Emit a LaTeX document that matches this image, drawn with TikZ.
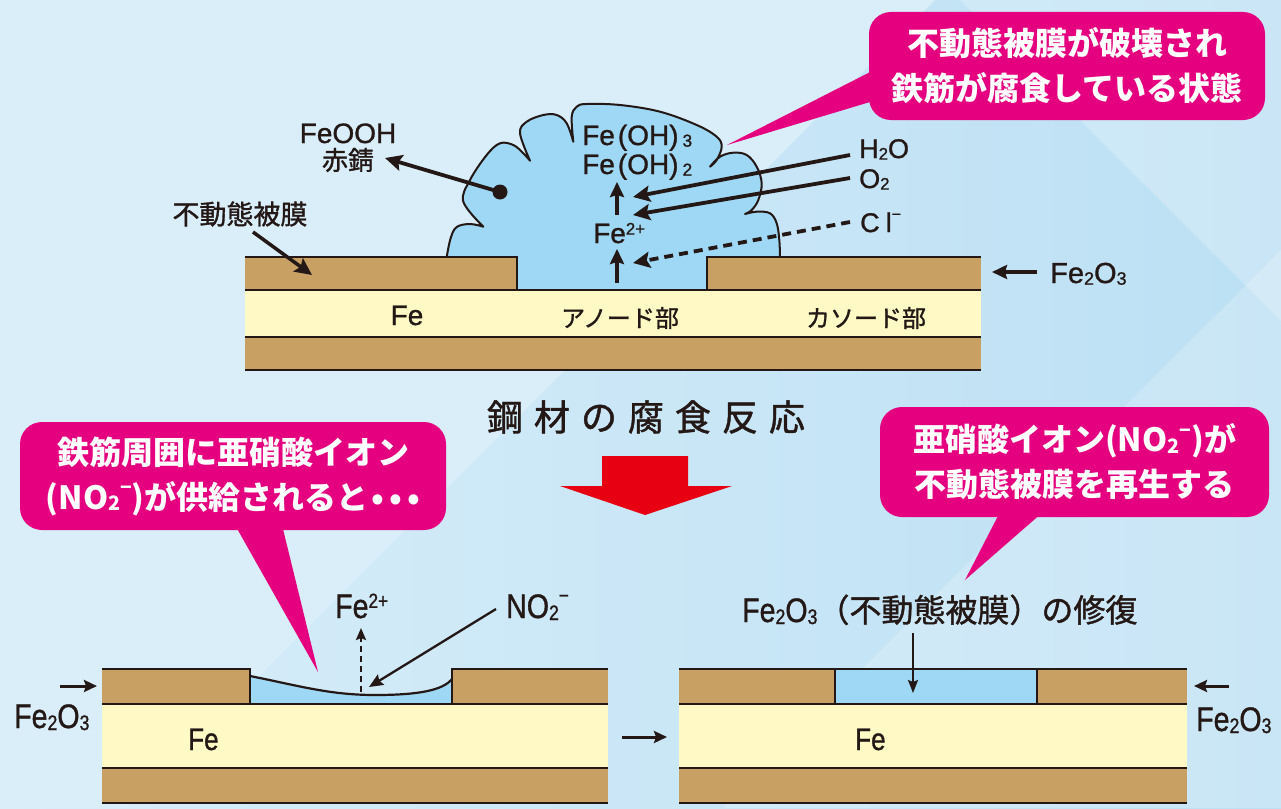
\documentclass[tikz,border=0pt]{standalone}
\usepackage{fontspec}
\setmainfont{Liberation Sans}[FakeBold=1.0]
\newfontfamily\jp{Noto Sans CJK JP}
\newfontfamily\jpm{Noto Sans CJK JP}[FakeBold=1.2]
\newfontfamily\cond{Liberation Sans}[FakeStretch=0.84, FakeBold=1.0]
\usetikzlibrary{arrows.meta}
\definecolor{ink}{HTML}{231815}
\definecolor{film}{HTML}{C9A064}
\definecolor{iron}{HTML}{FFF9C6}
\definecolor{rust}{HTML}{9FD8F4}
\definecolor{pink}{HTML}{E4007F}
\definecolor{alarm}{HTML}{E60012}
\definecolor{bgpale}{HTML}{D9EEF9}
\definecolor{bgblue}{HTML}{BCE0F4}
\newcommand{\lo}[1]{\raisebox{-0.06em}{\scalebox{0.62}{#1}}}
\newcommand{\hi}[1]{\raisebox{0.3em}{\scalebox{0.6}{#1}}}
\newcommand{\ionminus}{\raisebox{0.46em}{\scalebox{0.6}{−}}}
\newcommand{\fs}[1]{\fontsize{#1}{#1}\selectfont}
\tikzset{
  lbl/.style={inner sep=0pt, text=ink, font=\fs{28}},
  jlbl/.style={inner sep=0pt, text=ink, font=\jpm\fs{26}},
  clbl/.style={inner sep=0pt, text=ink, font=\cond\fs{34}},
  callout/.style={fill=pink, rounded corners=22pt, inner sep=0pt, text=white, align=center,
    font=\jp\bfseries\fontsize{32}{45}\selectfont},
  layer/.style={line width=2.6pt, draw=ink},
  bigarrow/.style={line width=3.8pt, draw=ink, -{Stealth[length=17pt,width=16pt,inset=3pt]}},
  midarrow/.style={line width=3pt, draw=ink, -{Stealth[length=13pt,width=12pt,inset=2pt]}},
  smallarrow/.style={line width=2.3pt, draw=ink, -{Stealth[length=12pt,width=10pt,inset=2pt]}},
}
\begin{document}
\begin{tikzpicture}[x=1pt,y=-1pt]
\useasboundingbox (0,0) rectangle (1281,808);
% background
\shade[left color=bgpale, right color=bgblue] (0,0) rectangle (1281,808);
\fill[bgpale] (0,0) -- (935,0) -- (127,808) -- (0,808) -- cycle;
\fill[white, opacity=0.22] (960,0) -- (1281,0) -- (1281,321) -- cycle;
\fill[white, opacity=0.2] (1281,250) -- (1281,808) -- (723,808) -- cycle;

% ---------- corroding bar ----------
\path[fill=rust, draw=ink, line width=2pt, line join=round]
  (446.7,262)
  -- plot[smooth, tension=0.6] coordinates {(446.7,257) (450.7,238) (456.7,227) (470,224) (483.3,226.7)}
  -- plot[smooth, tension=0.6] coordinates {(483.3,226.7) (463.3,201.7) (470,180) (486.7,155) (500,143.3) (513.3,145) (523.3,153.3) (530,160.7)}
  -- plot[smooth, tension=0.6] coordinates {(530,160.7) (520,133.3) (526.7,121.7) (543.3,115) (556.7,115) (566.7,123.3) (573.3,141.7)}
  -- plot[smooth, tension=0.6] coordinates {(573.3,141.7) (571.7,116.7) (576.7,106.7) (586.7,104) (620,105) (660,111.7) (696.7,125) (716.7,136.7) (721.7,146.7) (716.7,160) (710,166.7)}
  -- plot[smooth, tension=0.6] coordinates {(710,166.7) (720,156.7) (733.3,152.7) (746.7,155) (756.7,166.7) (761.7,183.3) (758.3,200) (751.7,210) (745,214)}
  -- plot[smooth, tension=0.6] coordinates {(745,214) (756.7,211.7) (770,213.3) (776.7,223.3) (779.3,240) (780,257)}
  -- (780,262) -- cycle;
\fill[rust] (517,258) rectangle (707,290);
\fill[film] (245,257) rectangle (517,290);
\fill[film] (707,257) rectangle (981,290);
\fill[iron] (245,290) rectangle (981,337);
\fill[film] (245,337) rectangle (981,370);
\draw[layer] (245,257) -- (517,257) -- (517,290);
\draw[layer] (707,290) -- (707,257) -- (981,257);
\draw[layer] (245,290) -- (981,290);
\draw[layer] (245,337) -- (981,337);
\draw[layer] (245,370) -- (981,370);

% labels of the corroding bar
\node[jlbl, font=\jpm\fs{27}] (passive) at (240,214) {不動態被膜};
\node[lbl, anchor=base] (feooh) at (348,143) {FeOOH};
\node[jlbl] (akasabi) at (348,160) {赤錆};
\node[lbl, anchor=base west] (oh3) at (582,145) {Fe\hspace{3pt}(OH)\hspace{4pt}\lo{3}};
\node[lbl, anchor=base west] (oh2) at (582,174) {Fe\hspace{3pt}(OH)\hspace{4pt}\lo{2}};
\node[lbl, anchor=base west] (fe2a) at (593,243) {Fe\hi{2+}};
\node[lbl, font=\fs{27}, anchor=base west] (h2o) at (859,158) {H\lo{2}O};
\node[lbl, font=\fs{27}, anchor=base west] (o2) at (859,188) {O\lo{2}};
\node[lbl, font=\fs{27}, anchor=base west] (cl) at (860,232) {C\hspace{6pt}l\ionminus};
\node[lbl, font=\fs{29}, anchor=base west] (ox1) at (1050,283) {Fe\lo{2}O\lo{3}};
\node[lbl, anchor=base] (fe1) at (407,325) {Fe};
\node[jlbl, font=\jpm\fs{24}] (anode) at (620,318) {アノード部};
\node[jlbl, font=\jpm\fs{24}] (cathode) at (866,318) {カソード部};

\coordinate (dot) at (500,192);
\coordinate (rusttip) at (385,158);
\coordinate (passtail) at (253,232);
\coordinate (passtip) at (312,275);
\coordinate (h2otail) at (850,155);
\coordinate (h2otip) at (633,197);
\coordinate (o2tail) at (850,178);
\coordinate (o2tip) at (633,215);
\coordinate (cltail) at (850,222);
\coordinate (cltip) at (633,263);
\coordinate (up1a) at (617,283);
\coordinate (up1b) at (617,249);
\coordinate (up2a) at (617,215);
\coordinate (up2b) at (617,182);
\coordinate (ox1tail) at (1037,272);
\coordinate (ox1tip) at (992,272);

\fill[ink] (dot) circle (7.5);
\draw[bigarrow] (dot) -- (rusttip);
\draw[bigarrow, line width=3.5pt] (passtail) -- (passtip);
\draw[bigarrow] (h2otail) -- (h2otip);
\draw[bigarrow] (o2tail) -- (o2tip);
\draw[bigarrow, dash pattern=on 9pt off 6pt] (cltail) -- (cltip);
\draw[bigarrow, -{Stealth[length=15pt,width=14pt,inset=2pt]}] (up1a) -- (up1b);
\draw[bigarrow, -{Stealth[length=15pt,width=14pt,inset=2pt]}] (up2a) -- (up2b);
\draw[bigarrow, line width=3.5pt, -{Stealth[length=15pt,width=14pt,inset=2pt]}] (ox1tail) -- (ox1tip);

% callout on the corroding bar
\node[callout, minimum width=396pt, minimum height=108pt] (c1) at (1067,66)
  {不動態被膜が破壊され\\鉄筋が腐食している状態};
\fill[pink] (880,67) -- (727,145) -- (880,99) -- cycle;

% title and transition arrow
\node[inner sep=0pt, text=ink, font=\jpm\fs{36}] (title) at (646,417)
  {鋼\hspace{11pt}材\hspace{11pt}の\hspace{11pt}腐\hspace{11pt}食\hspace{11pt}反\hspace{11pt}応};
\fill[alarm] (602,456) -- (688,456) -- (688,486) -- (732,486) -- (645,515) -- (560,486) -- (602,486) -- cycle;

% ---------- nitrite supplied ----------
\fill[film] (102,669) rectangle (250,704);
\fill[film] (452,669) rectangle (608,704);
\fill[rust] (250,676) .. controls (300,686) and (330,695) .. (375,695)
  .. controls (420,695) and (443,690) .. (452,679) -- (452,704) -- (250,704) -- cycle;
\fill[iron] (102,704) rectangle (608,768);
\fill[film] (102,768) rectangle (608,803);
\draw[layer] (102,669) -- (250,669) -- (250,704);
\draw[layer] (452,704) -- (452,669) -- (608,669);
\draw[ink, line width=2.2pt] (250,676) .. controls (300,686) and (330,695) .. (375,695)
  .. controls (420,695) and (443,690) .. (452,679);
\draw[layer] (102,704) -- (608,704);
\draw[layer] (102,768) -- (608,768);
\draw[layer] (102,803) -- (608,803);

\node[clbl, anchor=base west] (fe2b) at (335,618) {Fe\hi{2+}};
\node[clbl, anchor=base west] (no2) at (506,618) {NO\lo{2}\ionminus};
\node[clbl, anchor=base west] (ox2) at (14,728) {Fe\lo{2}O\lo{3}};
\node[clbl, font=\cond\fs{31}, anchor=base west] (fe3) at (188,750) {Fe};

\coordinate (fe2bfoot) at (361,692);
\coordinate (fe2bhead) at (361,628);
\coordinate (no2tail) at (496,609);
\coordinate (no2tip) at (369,687);
\coordinate (ox2tail) at (60,686);
\coordinate (ox2tip) at (97,686);
\draw[smallarrow, line width=2.6pt, dash pattern=on 6pt off 4pt] (fe2bfoot) -- (fe2bhead);
\draw[smallarrow, -{Stealth[length=14pt,width=12pt,inset=2pt]}] (no2tail) -- (no2tip);
\draw[midarrow] (ox2tail) -- (ox2tip);

\node[callout, minimum width=426pt, minimum height=108pt] (c2) at (233,476)
  {鉄筋周囲に亜硝酸イオン\\(NO\lo{2}\ionminus)が供給されると\hspace{3pt}•\hspace{5pt}•\hspace{5pt}•};
\fill[pink] (235,525) -- (318,672) -- (282,525) -- cycle;

% step arrow between the two lower bars
\coordinate (steptail) at (622,737);
\coordinate (stephead) at (667,737);
\draw[midarrow] (steptail) -- (stephead);

% ---------- film repaired ----------
\fill[film] (679,669) rectangle (835,704);
\fill[rust] (835,669) rectangle (1037,704);
\fill[film] (1037,669) rectangle (1187,704);
\fill[iron] (679,704) rectangle (1187,768);
\fill[film] (679,768) rectangle (1187,803);
\draw[layer] (679,669) -- (1187,669);
\draw[layer] (835,669) -- (835,704);
\draw[layer] (1037,669) -- (1037,704);
\draw[layer] (679,704) -- (1187,704);
\draw[layer] (679,768) -- (1187,768);
\draw[layer] (679,803) -- (1187,803);

\node[clbl, anchor=base west] (repair) at (742,622)
  {Fe\lo{2}O\lo{3}{\jpm\fs{32}（不動態被膜）の修復}};
\node[clbl, font=\cond\fs{31}, anchor=base west] (fe4) at (855,750) {Fe};
\node[clbl, anchor=base west] (ox3) at (1196,731) {Fe\lo{2}O\lo{3}};

\coordinate (reptail) at (913,633);
\coordinate (reptip) at (913,693);
\coordinate (ox3tail) at (1229,686);
\coordinate (ox3tip) at (1194,686);
\draw[smallarrow, line width=2pt, -{Stealth[length=13pt,width=10pt,inset=2pt]}] (reptail) -- (reptip);
\draw[midarrow] (ox3tail) -- (ox3tip);

\node[callout, minimum width=389pt, minimum height=110pt] (c3) at (1074.5,462)
  {亜硝酸イオン(NO\lo{2}\ionminus)が\\不動態被膜を再生する};
\fill[pink] (1000,512) -- (965,580) -- (1043,512) -- cycle;
\end{tikzpicture}
\end{document}
